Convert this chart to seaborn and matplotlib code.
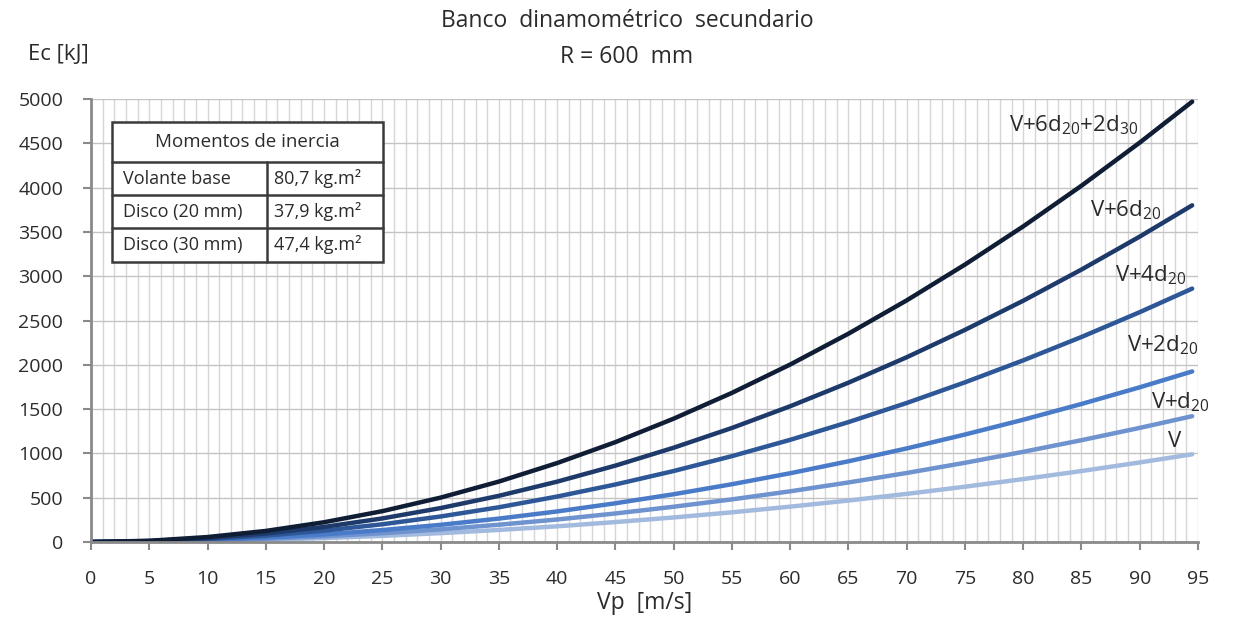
import numpy as np
import pandas as pd
import matplotlib
matplotlib.use("Agg")
import matplotlib.pyplot as plt
from matplotlib.ticker import MultipleLocator
from matplotlib.patches import Rectangle
from matplotlib.lines import Line2D
import seaborn as sns

# Peripheral speed [m/s]
vp = [0, 5, 10, 15, 20, 25, 30, 35, 40, 45, 50, 55, 60, 65, 70, 75, 80, 85, 90, 94.5]

# Kinetic energy [kJ] for each flywheel configuration
ec_v = [0, 3, 11, 25, 44, 69, 100, 136, 177, 225, 277, 335, 399, 468, 543, 624, 710, 801, 898, 990]
ec_v_1d20 = [0, 4, 16, 36, 64, 99, 143, 195, 254, 322, 398, 481, 572, 672, 779, 894, 1018, 1149, 1288, 1420]
ec_v_2d20 = [0, 5, 22, 49, 86, 135, 194, 264, 345, 437, 539, 652, 776, 911, 1056, 1213, 1380, 1558, 1746, 1925]
ec_v_4d20 = [0, 8, 32, 72, 128, 200, 288, 392, 513, 649, 801, 969, 1153, 1353, 1569, 1802, 2050, 2314, 2594, 2860]
ec_v_6d20 = [0, 11, 43, 96, 170, 266, 383, 521, 681, 862, 1064, 1287, 1532, 1798, 2085, 2394, 2723, 3075, 3447, 3800]
ec_v_6d20_2d30 = [0, 14, 56, 125, 223, 348, 501, 682, 891, 1127, 1392, 1683, 2003, 2351, 2727, 3131, 3562, 4021, 4508, 4970]

configs = ["V", "V+d20", "V+2d20", "V+4d20", "V+6d20", "V+6d20+2d30"]
series = [ec_v, ec_v_1d20, ec_v_2d20, ec_v_4d20, ec_v_6d20, ec_v_6d20_2d30]
curve_labels = ["V", r"V+d$_{20}$", r"V+2d$_{20}$", r"V+4d$_{20}$",
                r"V+6d$_{20}$", r"V+6d$_{20}$+2d$_{30}$"]

# Inertia table
inertia_rows = ["Volante base", "Disco (20 mm)", "Disco (30 mm)"]
inertia_vals = ["80,7 kg.m²", "37,9 kg.m²", "47,4 kg.m²"]

colors = ["#a3badf", "#6f93cf", "#4a7bc8", "#2d5797", "#1d3a6b", "#0f1d35"]

df = pd.DataFrame({
    "Vp": np.tile(vp, len(configs)),
    "Ec": np.concatenate(series),
    "config": np.repeat(configs, len(vp)),
})

sns.set_theme(style="white")
plt.rcParams["font.family"] = ["Open Sans", "DejaVu Sans"]
plt.rcParams["mathtext.fontset"] = "custom"
plt.rcParams["mathtext.rm"] = "Open Sans"
plt.rcParams["mathtext.it"] = "Open Sans"
plt.rcParams["mathtext.default"] = "regular"

TXT = "#2b2b2b"

fig = plt.figure(figsize=(12.38, 6.34), dpi=100)
ax = fig.add_axes([91 / 1238, 1 - 542 / 634, 1107 / 1238, 443 / 634])

sns.lineplot(data=df, x="Vp", y="Ec", hue="config", hue_order=configs,
             palette=colors, linewidth=3.2, legend=False, ax=ax, sort=False,
             solid_capstyle="round")

ax.set_xlim(0, 95)
ax.set_ylim(0, 5000)
ax.xaxis.set_major_locator(MultipleLocator(5))
ax.xaxis.set_minor_locator(MultipleLocator(1))
ax.yaxis.set_major_locator(MultipleLocator(500))

ax.grid(True, which="major", axis="y", color="#c4c4c4", linewidth=1.0)
ax.grid(True, which="both", axis="x", color="#d6d6d6", linewidth=1.0)
ax.set_axisbelow(True)

for side in ["top", "right"]:
    ax.spines[side].set_visible(False)
for side in ["left", "bottom"]:
    ax.spines[side].set_color("#8a8a8a")
    ax.spines[side].set_linewidth(2.0)

ax.tick_params(axis="both", which="major", direction="out", length=6, width=1.5,
               color="#8a8a8a", labelsize=14, labelcolor=TXT)
ax.tick_params(axis="x", which="major", pad=14)
ax.tick_params(axis="y", which="major", pad=14)
ax.tick_params(axis="x", which="minor", length=0)
ax.tick_params(left=True, bottom=True)

ax.set_xlabel("Vp  [m/s]", fontsize=16.5, color=TXT, labelpad=2)
ax.set_ylabel("")

fig.text(58 / 1238, 1 - 55 / 634, "Ec [kJ]", fontsize=16, color=TXT,
         ha="center", va="center")
fig.text(627 / 1238, 1 - 21 / 634, "Banco  dinamométrico  secundario", fontsize=16.5,
         color=TXT, ha="center", va="center")
fig.text(627 / 1238, 1 - 57 / 634, "R = 600  mm", fontsize=16.5,
         color=TXT, ha="center", va="center")

# Curve labels at the right end of each line
label_pos = [(93.0, 1129, "center"), (96.0, 1580, "right"), (95.0, 2223, "right"),
             (94.05, 3014, "right"), (91.9, 3747, "right"), (89.85, 4707, "right")]
for (x, y, ha), txt in zip(label_pos, curve_labels):
    ax.text(x, y, txt, fontsize=16, color=TXT, ha=ha, va="center", clip_on=False)

# Inertia table drawn in axes coordinates
tx0, tx1, tdiv = 0.019, 0.2638, 0.159
ty = [0.948, 0.858, 0.783, 0.709, 0.632]
edge = "#3a3a3a"
ax.add_patch(Rectangle((tx0, ty[-1]), tx1 - tx0, ty[0] - ty[-1], transform=ax.transAxes,
                       facecolor="white", edgecolor=edge, linewidth=1.8, zorder=5))
for yline in ty[1:-1]:
    ax.add_line(Line2D([tx0, tx1], [yline, yline], transform=ax.transAxes,
                       color=edge, linewidth=1.8, zorder=6))
ax.add_line(Line2D([tdiv, tdiv], [ty[-1], ty[1]], transform=ax.transAxes,
                   color=edge, linewidth=1.8, zorder=6))
ax.text((tx0 + tx1) / 2, (ty[0] + ty[1]) / 2, "Momentos de inercia", transform=ax.transAxes,
        fontsize=13.5, color=TXT, ha="center", va="center", zorder=7)
for i, (name, val) in enumerate(zip(inertia_rows, inertia_vals)):
    yc = (ty[i + 1] + ty[i + 2]) / 2
    ax.text(tx0 + 0.010, yc, name, transform=ax.transAxes, fontsize=13,
            color=TXT, ha="left", va="center", zorder=7)
    ax.text(tdiv + 0.006, yc, val, transform=ax.transAxes, fontsize=13,
            color=TXT, ha="left", va="center", zorder=7)

fig.savefig("out.png", dpi=100, facecolor="white")
